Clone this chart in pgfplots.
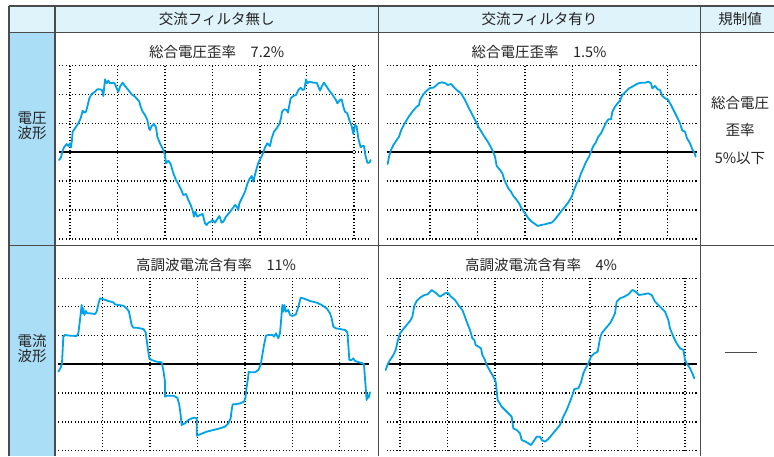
\documentclass[border=0pt]{standalone}
\usepackage{pgfplots}
\pgfplotsset{compat=1.18}
\usepackage{fontspec}
\setmainfont{Noto Sans CJK JP}
\definecolor{wave}{RGB}{0,162,232}
\definecolor{hdr}{RGB}{223,243,251}
\definecolor{side}{RGB}{170,222,247}
\definecolor{rulec}{RGB}{75,75,75}
\definecolor{txt}{RGB}{35,35,35}
\pgfplotsset{wavebox/.style={x=0.33333pt, y=0.33333pt, anchor=south west,
  axis line style={draw=none}, tick style={draw=none}, xticklabels={}, yticklabels={},
  grid=major, major grid style={black, line width=1.25pt, dash pattern=on 1.15pt off 2.1pt},
  clip=false},
  wv/.style={wave, line width=1.8pt, line join=round, line cap=round, mark=none},
  zl/.style={black, line width=1.4pt, mark=none}}
\begin{document}
\begin{tikzpicture}[x=1pt,y=1pt]
\useasboundingbox (0,0) rectangle (774,456);
% table backgrounds
\fill[hdr] (9,423.5) rectangle (774,450);
\fill[side] (9,0) rectangle (55,423.5);
% table rules
\draw[rulec, line width=1.1pt] (9,450) -- (774,450);
\draw[rulec, line width=1.3pt] (9,423.5) -- (774,423.5);
\draw[rulec, line width=1.3pt] (9,210.3) -- (774,210.3);
\draw[rulec, line width=1.1pt] (9,0) -- (9,450);
\draw[rulec, line width=1.1pt] (55,0) -- (55,450);
\draw[rulec, line width=1.1pt] (378.3,0) -- (378.3,450);
\draw[rulec, line width=1.1pt] (700.7,0) -- (700.7,450);
% header texts
\begin{scope}[every node/.style={inner sep=0pt, text=txt, font=\fontsize{14.5}{16}\selectfont}]
\node at (216.7,437) {交流フィルタ無し};
\node at (539.5,437) {交流フィルタ有り};
\node at (740,437) {規制値};
\node at (32,338) {電圧};
\node at (32,323) {波形};
\node at (32,115) {電流};
\node at (32,100) {波形};
\node at (740,353) {総合電圧};
\node at (740,326) {歪率};
\node at (740,298) {5\%以下};
\node at (216.7,404) {総合電圧歪率　7.2\%};
\node at (539,404) {総合電圧歪率　1.5\%};
\node at (216,191) {高調波電流含有率　11\%};
\node at (541,191) {高調波電流含有率　4\%};
\end{scope}
\draw[rulec, line width=1.2pt] (725,103.3) -- (757,103.3);

% Plot 1: voltage, no filter
\begin{axis}[wavebox, at={(59pt,217pt)}, xmin=27, xmax=955, ymin=-261, ymax=259,
  xtick={60,203,345,487,630,770,912}, ytick={-261,-174,-87,0,86,173,259}]
\addplot[zl] coordinates {(27,0) (910,0)};
\addplot[wv] coordinates {
(27,-24) (33,-16) (37,1) (42,14) (50,24) (55,18) (60,26) (63,14) (66,36) (68,61)
(75,71) (85,86) (92,101) (98,124) (103,118) (108,121) (112,136) (118,161) (125,174)
(135,181) (142,188) (150,188) (156,186) (160,168) (165,218) (170,206) (175,214)
(180,206) (190,208) (195,204) (200,191) (205,181) (210,196) (218,208) (225,198)
(235,186) (245,173) (255,166) (262,158) (268,151) (272,136) (278,121) (285,111)
(292,96) (297,71) (300,66) (305,78) (312,84) (318,74) (322,46) (330,26) (340,6)
(345,-9) (348,-34) (355,-26) (362,-36) (370,-64) (378,-84) (385,-96) (393,-112)
(400,-129) (408,-126) (415,-144) (422,-159) (428,-176) (432,-194) (436,-179)
(442,-194) (450,-189) (458,-186) (465,-214) (470,-219) (475,-212) (482,-209)
(488,-204) (495,-212) (500,-204) (508,-192) (515,-212) (520,-209) (528,-194)
(538,-182) (548,-169) (555,-159) (560,-164) (565,-174) (568,-154) (578,-134)
(585,-119) (592,-96) (598,-82) (605,-72) (610,-89) (614,-72) (620,-49) (625,-32)
(632,-19) (640,-2) (645,14) (652,26) (660,18) (665,41) (672,61) (680,71) (688,84)
(693,101) (696,121) (703,128) (710,126) (714,118) (718,141) (722,161) (730,168)
(738,171) (745,186) (752,193) (758,186) (763,188) (768,218) (772,206) (778,211)
(790,208) (800,208) (805,196) (810,184) (815,196) (822,208) (830,196) (838,184)
(848,171) (858,156) (862,146) (870,156) (875,158) (880,136) (885,121) (892,116)
(898,96) (905,78) (910,54) (915,81) (920,76) (925,41) (932,14) (937,18) (942,18)
(946,-9) (952,-32) (958,-32) (962,-24)};
\end{axis}

% Plot 2: voltage, with filter
\begin{axis}[wavebox, at={(386.67pt,217pt)}, xmin=35, xmax=965, ymin=-261, ymax=259,
  xtick={165,307,450,593,735,878}, ytick={-261,-174,-87,0,86,173,259}]
\addplot[zl] coordinates {(35,0) (965,0)};
\addplot[wv] coordinates {
(38,-36) (42,-14) (48,6) (55,21) (65,36) (72,46) (78,64) (88,84) (100,104) (112,121)
(125,136) (132,141) (135,156) (145,173) (155,184) (165,192) (175,193) (182,198)
(190,206) (200,209) (212,206) (218,201) (228,204) (235,196) (245,186) (258,176)
(270,156) (282,131) (295,106) (310,76) (325,51) (340,28) (352,6) (360,-14) (365,-42)
(375,-54) (382,-64) (388,-84) (395,-99) (400,-109) (408,-119) (415,-132) (425,-144)
(432,-154) (440,-169) (450,-184) (460,-199) (470,-209) (480,-216) (488,-222)
(498,-219) (510,-217) (520,-214) (530,-212) (540,-202) (550,-189) (560,-176)
(570,-164) (580,-151) (590,-134) (598,-112) (605,-94) (612,-82) (618,-64) (625,-49)
(632,-32) (642,-14) (650,6) (655,18) (662,28) (670,46) (678,56) (685,71) (692,86)
(700,98) (708,98) (712,121) (720,136) (728,146) (735,154) (742,171) (752,181)
(762,191) (772,196) (780,201) (790,206) (800,208) (810,208) (820,211) (828,206)
(832,191) (840,198) (848,188) (855,186) (862,168) (870,161) (878,158) (888,141)
(898,121) (908,101) (915,86) (922,64) (930,61) (936,41) (945,26) (952,8) (958,-2)
(962,-14)};
\end{axis}

% Plot 3: current, no filter
\begin{axis}[wavebox, at={(58.33pt,5.33pt)}, xmin=25, xmax=955, ymin=-260, ymax=257,
  xtick={158,300,442,585,727,868}, ytick={-260,-174,-87,0,86,172,257}]
\addplot[zl] coordinates {(25,0) (958,0)};
\addplot[wv] coordinates {
(25,-23) (32,-11) (36,2) (40,82) (45,87) (60,85) (80,84) (85,92) (90,132) (95,177)
(98,152) (100,167) (103,147) (108,159) (112,152) (120,152) (135,150) (140,157)
(145,179) (150,197) (158,195) (175,189) (190,185) (195,179) (205,177) (220,175)
(230,167) (237,157) (240,142) (245,117) (250,109) (260,109) (280,105) (287,95)
(292,57) (298,17) (305,12) (320,7) (335,5) (340,-18) (345,-53) (345,-98) (350,-95)
(370,-95) (382,-101) (388,-123) (392,-153) (395,-183) (405,-178) (415,-168)
(425,-163) (435,-161) (440,-163) (440,-215) (450,-211) (470,-203) (490,-198)
(510,-193) (525,-188) (535,-178) (542,-163) (545,-138) (548,-121) (555,-121)
(570,-118) (582,-113) (586,-103) (590,-68) (594,-43) (596,-23) (600,-25) (615,-25)
(625,-18) (632,-3) (637,27) (642,57) (648,85) (655,87) (668,87) (672,82) (678,92)
(685,77) (690,92) (693,127) (697,177) (700,157) (703,177) (708,157) (715,162)
(720,147) (728,144) (738,149) (745,172) (752,199) (760,197) (780,189) (800,184)
(815,177) (830,167) (840,152) (845,137) (850,112) (858,107) (870,105) (885,102)
(892,95) (895,57) (898,12) (905,12) (910,17) (915,9) (928,5) (938,2) (942,-1)
(945,-43) (950,-108) (953,-93) (956,-101) (960,-85)};
\end{axis}

% Plot 4: current, with filter
\begin{axis}[wavebox, at={(386.67pt,5.33pt)}, xmin=35, xmax=965, ymin=-260, ymax=257,
  xtick={75,218,360,502,645,787,930}, ytick={-260,-174,-87,0,86,172,257}]
\addplot[zl] coordinates {(35,0) (965,0)};
\addplot[wv] coordinates {
(32,-18) (38,-1) (45,12) (55,27) (62,42) (68,69) (75,92) (85,105) (95,117) (105,129)
(112,142) (118,175) (125,189) (135,199) (148,207) (158,209) (170,222) (180,215)
(195,202) (210,212) (218,214) (228,202) (240,192) (250,177) (262,162) (268,147)
(275,127) (285,102) (292,77) (298,72) (302,57) (310,52) (318,47) (322,27) (330,12)
(335,-3) (345,-21) (355,-38) (362,-53) (368,-108) (380,-128) (395,-143) (410,-158)
(415,-193) (425,-198) (435,-208) (440,-228) (452,-233) (468,-243) (475,-233)
(485,-218) (495,-218) (500,-228) (510,-233) (520,-225) (530,-213) (545,-195)
(555,-183) (565,-158) (575,-138) (585,-113) (593,-91) (598,-75) (610,-73) (618,-55)
(625,-28) (632,-13) (640,2) (648,22) (658,32) (668,37) (675,77) (680,92) (692,107)
(705,122) (712,135) (720,152) (725,187) (735,197) (748,202) (760,209) (772,222)
(782,217) (792,207) (805,209) (820,212) (830,207) (840,187) (855,172) (870,157)
(880,132) (885,107) (895,82) (905,62) (915,47) (925,42) (930,12) (935,2) (945,-13)
(952,-28) (958,-43)};
\end{axis}
\end{tikzpicture}
\end{document}
